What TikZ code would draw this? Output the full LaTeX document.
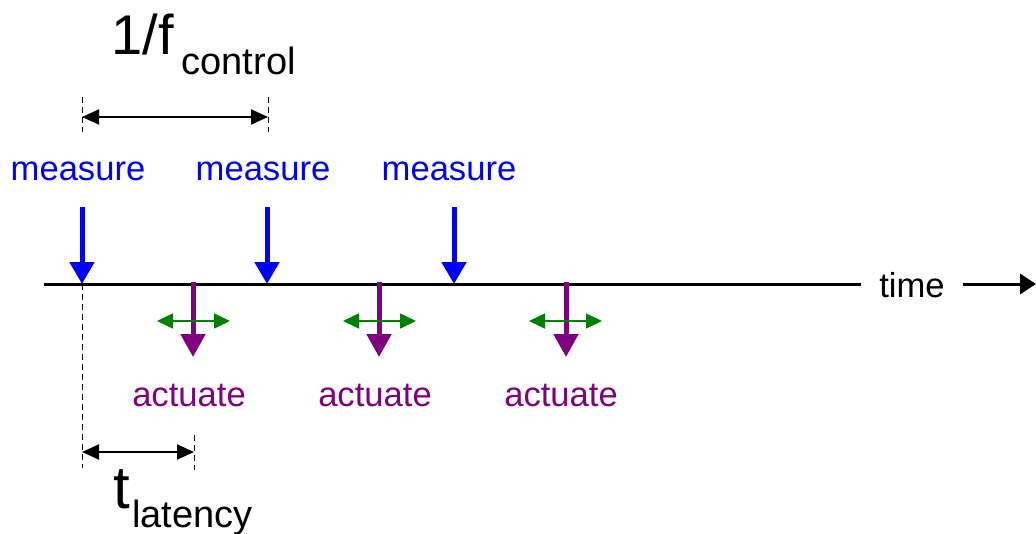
\documentclass[tikz,border=0pt]{standalone}
\usepackage{fontspec}
\setmainfont{Liberation Sans}
\usetikzlibrary{arrows.meta}
\definecolor{measblue}{RGB}{0,0,255}
\definecolor{actpurple}{RGB}{128,0,128}
\definecolor{jitgreen}{RGB}{0,128,0}
\newcommand{\lblfont}{\fontsize{17.3}{20}\selectfont}
\newcommand{\bigfont}{\fontsize{28}{32}\selectfont}
\newcommand{\tfont}{\fontsize{30}{34}\selectfont}
\newcommand{\subfont}{\fontsize{19}{22}\selectfont}
\begin{document}
\begin{tikzpicture}[x=0.5pt, y=-0.5pt,
    measarrow/.style={measblue, line width=2.5pt, -{Triangle[length=11pt, width=12pt]}},
    actarrow/.style={actpurple, line width=2.5pt, -{Triangle[length=11.5pt, width=12pt]}},
    jitarrow/.style={jitgreen, line width=0.8pt, {Triangle[length=8pt, width=7.5pt]}-{Triangle[length=8pt, width=7.5pt]}},
    spanarrow/.style={black, line width=1pt, {Triangle[length=8.5pt, width=7.5pt]}-{Triangle[length=8.5pt, width=7.5pt]}},
    guide/.style={black, line width=0.5pt, dashed, dash pattern=on 3pt off 2pt},
    lbl/.style={font=\lblfont, anchor=base, inner sep=0pt}]
  \useasboundingbox (0,0) rectangle (1036,534);

  % time axis
  \coordinate (tl0) at (44,284);
  \node[font=\lblfont, anchor=base, inner xsep=9pt, inner ysep=0pt] (time) at (912,297) {time};
  \coordinate (tlend) at (1036,284);
  \draw[line width=1.5pt] (tl0) -- (time.west |- tl0);
  \draw[line width=1.5pt, -{Triangle[length=8pt, width=10pt]}] (time.east |- tlend) -- (tlend);

  % measurements
  \coordinate (m1) at (82,284);
  \coordinate (m2) at (267,284);
  \coordinate (m3) at (454,284);
  \node[lbl, measblue] (meas1) at (78,181) {measure};
  \node[lbl, measblue] (meas2) at (263,181) {measure};
  \node[lbl, measblue] (meas3) at (449,181) {measure};
  \draw[measarrow] (82,207) -- (m1);
  \draw[measarrow] (267,207) -- (m2);
  \draw[measarrow] (454,207) -- (m3);

  % actuations
  \coordinate (a1) at (193,282);
  \coordinate (a2) at (379,282);
  \coordinate (a3) at (566,282);
  \draw[actarrow] (a1) -- (193,357);
  \draw[actarrow] (a2) -- (379,357);
  \draw[actarrow] (a3) -- (566,357);
  \draw[jitarrow] (157,321) -- (230,321);
  \draw[jitarrow] (343,321) -- (416,321);
  \draw[jitarrow] (529,321) -- (602,321);
  \node[lbl, actpurple] (act1) at (189,406) {actuate};
  \node[lbl, actpurple] (act2) at (375,406) {actuate};
  \node[lbl, actpurple] (act3) at (561,406) {actuate};

  % control period
  \draw[guide] (82,97) -- (82,132);
  \draw[guide] (268,97) -- (268,132);
  \coordinate (p0) at (82,117);
  \coordinate (p1) at (268,117);
  \draw[spanarrow] (p0) -- (p1);
  \node[anchor=base west, inner sep=0pt] (fctl) at (111,55) {\bigfont 1/f\hspace{4pt}\raisebox{-10pt}{\subfont control}};

  % latency
  \draw[guide] (m1) -- (82,468);
  \draw[guide] (194,435) -- (194,470);
  \coordinate (l0) at (82,452);
  \coordinate (l1) at (194,452);
  \draw[spanarrow] (l0) -- (l1);
  \node[anchor=base west, inner sep=0pt] (tlat) at (113,508) {\tfont t\hspace{1pt}\raisebox{-9.5pt}{\subfont latency}};
\end{tikzpicture}
\end{document}
